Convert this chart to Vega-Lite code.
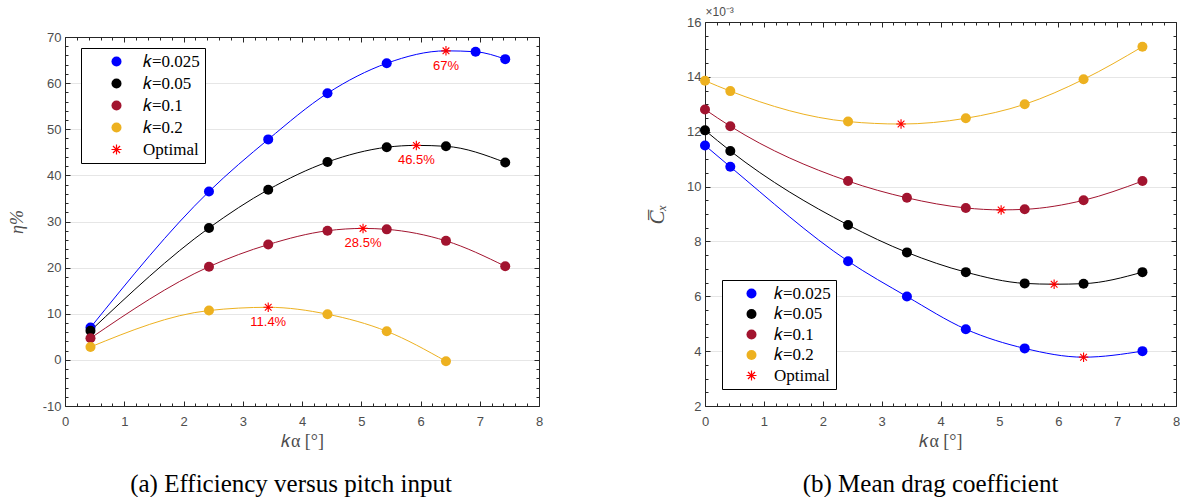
{
  "$schema": "https://vega.github.io/schema/vega-lite/v6.json",
  "background": "white",
  "padding": {"left": 8, "top": 5, "right": 0, "bottom": 0},
  "spacing": 103,
  "config": {
    "view": {"stroke": null},
    "font": "Liberation Sans",
    "axis": {
      "labelFont": "Liberation Sans", "labelFontSize": 13, "labelColor": "#4d4d4d",
      "tickColor": "#262626", "domainColor": "#262626", "tickWidth": 1, "domainWidth": 1,
      "grid": false, "titleFont": "Liberation Serif", "titleFontWeight": "normal", "titleColor": "#4d4d4d", "titleFontSize": 18
    },
    "legend": {
      "strokeColor": "#000000", "fillColor": "#ffffff", "padding": 5,
      "labelFont": "Liberation Serif", "labelFontSize": 17, "labelColor": "#000000",
      "symbolSize": 100, "rowPadding": 4, "title": null, "symbolStrokeWidth": 0
    },
    "title": {"font": "Liberation Serif", "fontSize": 25, "fontWeight": "normal", "color": "#000000"}
  },
  "resolve": {"scale": {"color": "independent", "shape": "independent", "stroke": "independent"}},
  "datasets": {
    "a": [
      {"k": "k=0.025", "series": "𝑘=0.025", "type": "data", "x": 0.43, "y": 7.0},
      {"k": "k=0.025", "series": "𝑘=0.025", "type": "data", "x": 2.43, "y": 36.5},
      {"k": "k=0.025", "series": "𝑘=0.025", "type": "data", "x": 3.43, "y": 47.8},
      {"k": "k=0.025", "series": "𝑘=0.025", "type": "data", "x": 4.43, "y": 57.8},
      {"k": "k=0.025", "series": "𝑘=0.025", "type": "data", "x": 5.43, "y": 64.3},
      {"k": "k=0.025", "series": "Optimal", "type": "opt", "x": 6.43, "y": 67.0, "label": "67%"},
      {"k": "k=0.025", "series": "𝑘=0.025", "type": "data", "x": 6.93, "y": 66.8},
      {"k": "k=0.025", "series": "𝑘=0.025", "type": "data", "x": 7.43, "y": 65.2},
      {"k": "k=0.05", "series": "𝑘=0.05", "type": "data", "x": 0.43, "y": 6.3},
      {"k": "k=0.05", "series": "𝑘=0.05", "type": "data", "x": 2.43, "y": 28.6},
      {"k": "k=0.05", "series": "𝑘=0.05", "type": "data", "x": 3.43, "y": 36.9},
      {"k": "k=0.05", "series": "𝑘=0.05", "type": "data", "x": 4.43, "y": 42.9},
      {"k": "k=0.05", "series": "𝑘=0.05", "type": "data", "x": 5.43, "y": 46.1},
      {"k": "k=0.05", "series": "Optimal", "type": "opt", "x": 5.93, "y": 46.5, "label": "46.5%"},
      {"k": "k=0.05", "series": "𝑘=0.05", "type": "data", "x": 6.43, "y": 46.3},
      {"k": "k=0.05", "series": "𝑘=0.05", "type": "data", "x": 7.43, "y": 42.8},
      {"k": "k=0.1", "series": "𝑘=0.1", "type": "data", "x": 0.43, "y": 4.7},
      {"k": "k=0.1", "series": "𝑘=0.1", "type": "data", "x": 2.43, "y": 20.2},
      {"k": "k=0.1", "series": "𝑘=0.1", "type": "data", "x": 3.43, "y": 25.0},
      {"k": "k=0.1", "series": "𝑘=0.1", "type": "data", "x": 4.43, "y": 28.0},
      {"k": "k=0.1", "series": "Optimal", "type": "opt", "x": 5.03, "y": 28.5, "label": "28.5%"},
      {"k": "k=0.1", "series": "𝑘=0.1", "type": "data", "x": 5.43, "y": 28.3},
      {"k": "k=0.1", "series": "𝑘=0.1", "type": "data", "x": 6.43, "y": 25.8},
      {"k": "k=0.1", "series": "𝑘=0.1", "type": "data", "x": 7.43, "y": 20.3},
      {"k": "k=0.2", "series": "𝑘=0.2", "type": "data", "x": 0.43, "y": 2.8},
      {"k": "k=0.2", "series": "𝑘=0.2", "type": "data", "x": 2.43, "y": 10.7},
      {"k": "k=0.2", "series": "Optimal", "type": "opt", "x": 3.43, "y": 11.4, "label": "11.4%"},
      {"k": "k=0.2", "series": "𝑘=0.2", "type": "data", "x": 4.43, "y": 9.9},
      {"k": "k=0.2", "series": "𝑘=0.2", "type": "data", "x": 5.43, "y": 6.2},
      {"k": "k=0.2", "series": "𝑘=0.2", "type": "data", "x": 6.43, "y": -0.3}
    ],
    "b": [
      {"k": "k=0.025", "series": "𝑘=0.025", "type": "data", "x": 0, "y": 0.0115},
      {"k": "k=0.025", "series": "𝑘=0.025", "type": "data", "x": 0.43, "y": 0.01072},
      {"k": "k=0.025", "series": "𝑘=0.025", "type": "data", "x": 2.43, "y": 0.00728},
      {"k": "k=0.025", "series": "𝑘=0.025", "type": "data", "x": 3.43, "y": 0.00599},
      {"k": "k=0.025", "series": "𝑘=0.025", "type": "data", "x": 4.43, "y": 0.0048},
      {"k": "k=0.025", "series": "𝑘=0.025", "type": "data", "x": 5.43, "y": 0.0041},
      {"k": "k=0.025", "series": "Optimal", "type": "opt", "x": 6.43, "y": 0.00378},
      {"k": "k=0.025", "series": "𝑘=0.025", "type": "data", "x": 7.43, "y": 0.004},
      {"k": "k=0.05", "series": "𝑘=0.05", "type": "data", "x": 0, "y": 0.01205},
      {"k": "k=0.05", "series": "𝑘=0.05", "type": "data", "x": 0.43, "y": 0.0113},
      {"k": "k=0.05", "series": "𝑘=0.05", "type": "data", "x": 2.43, "y": 0.0086},
      {"k": "k=0.05", "series": "𝑘=0.05", "type": "data", "x": 3.43, "y": 0.0076},
      {"k": "k=0.05", "series": "𝑘=0.05", "type": "data", "x": 4.43, "y": 0.00688},
      {"k": "k=0.05", "series": "𝑘=0.05", "type": "data", "x": 5.43, "y": 0.00647},
      {"k": "k=0.05", "series": "Optimal", "type": "opt", "x": 5.93, "y": 0.00644},
      {"k": "k=0.05", "series": "𝑘=0.05", "type": "data", "x": 6.43, "y": 0.00646},
      {"k": "k=0.05", "series": "𝑘=0.05", "type": "data", "x": 7.43, "y": 0.00688},
      {"k": "k=0.1", "series": "𝑘=0.1", "type": "data", "x": 0, "y": 0.01281},
      {"k": "k=0.1", "series": "𝑘=0.1", "type": "data", "x": 0.43, "y": 0.0122},
      {"k": "k=0.1", "series": "𝑘=0.1", "type": "data", "x": 2.43, "y": 0.0102},
      {"k": "k=0.1", "series": "𝑘=0.1", "type": "data", "x": 3.43, "y": 0.00959},
      {"k": "k=0.1", "series": "𝑘=0.1", "type": "data", "x": 4.43, "y": 0.00922},
      {"k": "k=0.1", "series": "Optimal", "type": "opt", "x": 5.03, "y": 0.00915},
      {"k": "k=0.1", "series": "𝑘=0.1", "type": "data", "x": 5.43, "y": 0.00917},
      {"k": "k=0.1", "series": "𝑘=0.1", "type": "data", "x": 6.43, "y": 0.0095},
      {"k": "k=0.1", "series": "𝑘=0.1", "type": "data", "x": 7.43, "y": 0.0102},
      {"k": "k=0.2", "series": "𝑘=0.2", "type": "data", "x": 0, "y": 0.01386},
      {"k": "k=0.2", "series": "𝑘=0.2", "type": "data", "x": 0.43, "y": 0.01348},
      {"k": "k=0.2", "series": "𝑘=0.2", "type": "data", "x": 2.43, "y": 0.01237},
      {"k": "k=0.2", "series": "Optimal", "type": "opt", "x": 3.33, "y": 0.01228},
      {"k": "k=0.2", "series": "𝑘=0.2", "type": "data", "x": 4.43, "y": 0.01249},
      {"k": "k=0.2", "series": "𝑘=0.2", "type": "data", "x": 5.43, "y": 0.013},
      {"k": "k=0.2", "series": "𝑘=0.2", "type": "data", "x": 6.43, "y": 0.01391},
      {"k": "k=0.2", "series": "𝑘=0.2", "type": "data", "x": 7.43, "y": 0.0151}
    ]
  },
  "hconcat": [
    {
      "width": 474, "height": 384,
      "data": {"name": "a"},
      "title": {"text": "(a) Efficiency versus pitch input", "orient": "bottom", "anchor": "middle", "frame": "group", "dx": -11, "offset": 22},
      "resolve": {"axis": {"x": "independent", "y": "independent"}},
      "layer": [
        {
          "mark": {"type": "line", "strokeWidth": 1, "interpolate": "monotone"},
          "encoding": {
            "x": {"field": "x", "type": "quantitative", "scale": {"domain": [0, 8], "nice": false, "zero": false},
              "axis": {"orient": "bottom", "values": [0,1,2,3,4,5,6,7,8], "labelFlush": false, "title": "𝑘α [°]", "tickSize": -5, "labelPadding": 14, "titlePadding": 4}},
            "y": {"field": "y", "type": "quantitative", "scale": {"domain": [-10, 70], "nice": false, "zero": false, "range": [384, 15]},
              "axis": {"orient": "left", "values": [-10,0,10,20,30,40,50,60,70], "labelExpr": "'' + datum.value", "title": "η%", "titleFontStyle": "italic", "tickSize": -5, "labelPadding": 9, "titlePadding": 16, "grid": true, "gridColor": "#e6e6e6"}},
            "stroke": {"field": "k", "type": "nominal", "legend": null,
              "scale": {"domain": ["k=0.025","k=0.05","k=0.1","k=0.2"], "range": ["#0000ff","#000000","#a2142f","#edb120"]}},
            "detail": {"field": "k"}
          }
        },
        {
          "transform": [{"filter": "datum.type == 'data'"}],
          "mark": {"type": "point", "filled": true, "opacity": 1, "size": 100},
          "encoding": {
            "x": {"field": "x", "type": "quantitative",
              "axis": {"orient": "bottom", "values": [0.2,0.4,0.6,0.8,1.2,1.4,1.6,1.8,2.2,2.4,2.6,2.8,3.2,3.4,3.6,3.8,4.2,4.4,4.6,4.8,5.2,5.4,5.6,5.8,6.2,6.4,6.6,6.8,7.2,7.4,7.6,7.8], "labels": false, "domain": false, "tickSize": -3, "title": null}},
            "y": {"field": "y", "type": "quantitative",
              "axis": {"orient": "left", "values": [-8,-6,-4,-2,2,4,6,8,12,14,16,18,22,24,26,28,32,34,36,38,42,44,46,48,52,54,56,58,62,64,66,68], "labels": false, "domain": false, "tickSize": -3, "title": null}},
            "color": {"field": "series", "type": "nominal",
              "scale": {"domain": ["𝑘=0.025","𝑘=0.05","𝑘=0.1","𝑘=0.2","Optimal"], "range": ["#0000ff","#000000","#a2142f","#edb120","#ff0000"]},
              "legend": {"orient": "none", "legendX": 16, "legendY": 26, "columns": 1, "symbolOffset": 22, "labelOffset": 18}},
            "shape": {"field": "series", "type": "nominal",
              "scale": {"domain": ["𝑘=0.025","𝑘=0.05","𝑘=0.1","𝑘=0.2","Optimal"], "range": ["circle","circle","circle","circle","M-0.12,-1L0.12,-1L0.12,1L-0.12,1ZM1,-0.12L1,0.12L-1,0.12L-1,-0.12ZM0.622,-0.792L0.792,-0.622L-0.622,0.792L-0.792,0.622ZM-0.792,-0.622L-0.622,-0.792L0.792,0.622L0.622,0.792Z"]},
              "legend": {"orient": "none", "legendX": 16, "legendY": 26, "columns": 1, "symbolOffset": 22, "labelOffset": 18}}
          }
        },
        {
          "transform": [{"filter": "datum.type == 'opt'"}],
          "mark": {"type": "point", "filled": true, "opacity": 1, "size": 90},
          "encoding": {
            "x": {"field": "x", "type": "quantitative",
              "axis": {"orient": "top", "offset": -15, "values": [0,1,2,3,4,5,6,7,8], "labels": false, "tickSize": -5, "title": null}},
            "y": {"field": "y", "type": "quantitative",
              "axis": {"orient": "right", "values": [-10,0,10,20,30,40,50,60,70], "labels": false, "tickSize": -5, "title": null}},
            "color": {"field": "series", "type": "nominal"},
            "shape": {"field": "series", "type": "nominal"}
          }
        },
        {
          "transform": [{"filter": "datum.type == 'opt'"}],
          "mark": {"type": "text", "dy": 15, "fontSize": 13, "font": "Liberation Sans", "color": "#ff0000", "align": "center", "baseline": "middle"},
          "encoding": {
            "x": {"field": "x", "type": "quantitative",
              "axis": {"orient": "top", "offset": -15, "values": [0.2,0.4,0.6,0.8,1.2,1.4,1.6,1.8,2.2,2.4,2.6,2.8,3.2,3.4,3.6,3.8,4.2,4.4,4.6,4.8,5.2,5.4,5.6,5.8,6.2,6.4,6.6,6.8,7.2,7.4,7.6,7.8], "labels": false, "domain": false, "tickSize": -3, "title": null}},
            "y": {"field": "y", "type": "quantitative",
              "axis": {"orient": "right", "values": [-8,-6,-4,-2,2,4,6,8,12,14,16,18,22,24,26,28,32,34,36,38,42,44,46,48,52,54,56,58,62,64,66,68], "labels": false, "domain": false, "tickSize": -3, "title": null}},
            "text": {"field": "label"}
          }
        }
      ]
    },
    {
      "width": 471, "height": 384,
      "data": {"name": "b"},
      "title": {"text": "(b) Mean drag coefficient", "orient": "bottom", "anchor": "middle", "frame": "group", "dx": -10, "offset": 22},
      "resolve": {"axis": {"x": "independent", "y": "independent"}},
      "layer": [
        {
          "mark": {"type": "line", "strokeWidth": 1, "interpolate": "monotone"},
          "encoding": {
            "x": {"field": "x", "type": "quantitative", "scale": {"domain": [0, 8], "nice": false, "zero": false},
              "axis": {"orient": "bottom", "values": [0,1,2,3,4,5,6,7,8], "labelFlush": false, "title": "𝑘α [°]", "tickSize": -5, "labelPadding": 14, "titlePadding": 4}},
            "y": {"field": "y", "type": "quantitative", "scale": {"domain": [0.002, 0.016], "nice": false, "zero": false},
              "axis": {"orient": "left", "values": [0.002,0.004,0.006,0.008,0.01,0.012,0.014,0.016], "labelExpr": "'' + round(datum.value*1000)", "title": "C̅ₓ", "titleFontStyle": "italic", "titleFontSize": 21, "tickSize": -5, "labelPadding": 9, "titlePadding": 19, "grid": true, "gridColor": "#e6e6e6"}},
            "stroke": {"field": "k", "type": "nominal", "legend": null,
              "scale": {"domain": ["k=0.025","k=0.05","k=0.1","k=0.2"], "range": ["#0000ff","#000000","#a2142f","#edb120"]}},
            "detail": {"field": "k"}
          }
        },
        {
          "transform": [{"filter": "datum.type == 'data'"}],
          "mark": {"type": "point", "filled": true, "opacity": 1, "size": 100},
          "encoding": {
            "x": {"field": "x", "type": "quantitative",
              "axis": {"orient": "bottom", "values": [0.2,0.4,0.6,0.8,1.2,1.4,1.6,1.8,2.2,2.4,2.6,2.8,3.2,3.4,3.6,3.8,4.2,4.4,4.6,4.8,5.2,5.4,5.6,5.8,6.2,6.4,6.6,6.8,7.2,7.4,7.6,7.8], "labels": false, "domain": false, "tickSize": -3, "title": null}},
            "y": {"field": "y", "type": "quantitative",
              "axis": {"orient": "left", "values": [0.0025,0.003,0.0035,0.0045,0.005,0.0055,0.0065,0.007,0.0075,0.0085,0.009,0.0095,0.0105,0.011,0.0115,0.0125,0.013,0.0135,0.0145,0.015,0.0155], "labels": false, "domain": false, "tickSize": -3, "title": null}},
            "color": {"field": "series", "type": "nominal",
              "scale": {"domain": ["𝑘=0.025","𝑘=0.05","𝑘=0.1","𝑘=0.2","Optimal"], "range": ["#0000ff","#000000","#a2142f","#edb120","#ff0000"]},
              "legend": {"orient": "bottom-left", "offset": 17, "columns": 1, "symbolOffset": 16, "labelOffset": 14, "rowPadding": 2.5}},
            "shape": {"field": "series", "type": "nominal",
              "scale": {"domain": ["𝑘=0.025","𝑘=0.05","𝑘=0.1","𝑘=0.2","Optimal"], "range": ["circle","circle","circle","circle","M-0.12,-1L0.12,-1L0.12,1L-0.12,1ZM1,-0.12L1,0.12L-1,0.12L-1,-0.12ZM0.622,-0.792L0.792,-0.622L-0.622,0.792L-0.792,0.622ZM-0.792,-0.622L-0.622,-0.792L0.792,0.622L0.622,0.792Z"]},
              "legend": {"orient": "bottom-left", "offset": 17, "columns": 1, "symbolOffset": 16, "labelOffset": 14, "rowPadding": 2.5}}
          }
        },
        {
          "transform": [{"filter": "datum.type == 'opt'"}],
          "mark": {"type": "point", "filled": true, "opacity": 1, "size": 90},
          "encoding": {
            "x": {"field": "x", "type": "quantitative",
              "axis": {"orient": "top", "values": [0,1,2,3,4,5,6,7,8], "labels": false, "tickSize": -5, "title": "×10⁻³", "titleFont": "Liberation Sans", "titleFontSize": 12, "titleAnchor": "start", "titlePadding": 3}},
            "y": {"field": "y", "type": "quantitative",
              "axis": {"orient": "right", "values": [0.002,0.004,0.006,0.008,0.01,0.012,0.014,0.016], "labels": false, "tickSize": -5, "title": null}},
            "color": {"field": "series", "type": "nominal"},
            "shape": {"field": "series", "type": "nominal"}
          }
        },
        {
          "transform": [{"filter": "datum.type == 'opt'"}],
          "mark": {"type": "point", "opacity": 0},
          "encoding": {
            "x": {"field": "x", "type": "quantitative",
              "axis": {"orient": "top", "values": [0.2,0.4,0.6,0.8,1.2,1.4,1.6,1.8,2.2,2.4,2.6,2.8,3.2,3.4,3.6,3.8,4.2,4.4,4.6,4.8,5.2,5.4,5.6,5.8,6.2,6.4,6.6,6.8,7.2,7.4,7.6,7.8], "labels": false, "domain": false, "tickSize": -3, "title": null}},
            "y": {"field": "y", "type": "quantitative",
              "axis": {"orient": "right", "values": [0.0025,0.003,0.0035,0.0045,0.005,0.0055,0.0065,0.007,0.0075,0.0085,0.009,0.0095,0.0105,0.011,0.0115,0.0125,0.013,0.0135,0.0145,0.015,0.0155], "labels": false, "domain": false, "tickSize": -3, "title": null}}
          }
        }
      ]
    }
  ]
}
